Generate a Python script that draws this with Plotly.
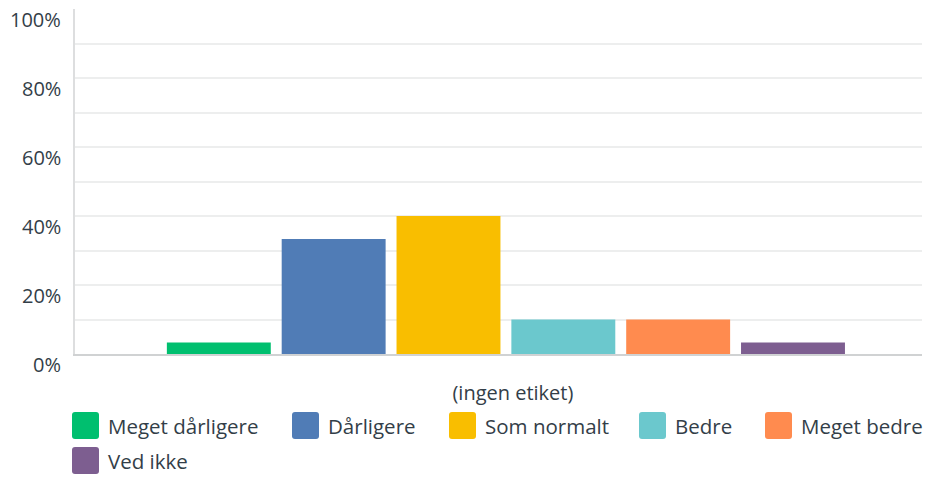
import plotly.graph_objects as go

categories = ["Meget dårligere", "Dårligere", "Som normalt", "Bedre", "Meget bedre", "Ved ikke"]
values = [3.33, 33.33, 40.0, 10.0, 10.0, 3.33]
colors = ["#00BF6F", "#507CB6", "#F9BE00", "#6BC8CD", "#FF8B4F", "#7D5E90"]
x_label = "(ingen etiket)"
y_tickvals = [0, 20, 40, 60, 80, 100]
y_ticktext = ["0%", "20%", "40%", "60%", "80%", "100%"]

FONT = "Open Sans"
TXT = "#333E48"
W, H = 925, 477
ML, MR, MT, MB = 75, 3, 9, 123
PW, PH = W - ML - MR, H - MT - MB

fig = go.Figure()
for name, v, c in zip(categories, values, colors):
    fig.add_trace(go.Bar(x=[0], y=[v], name=name, marker=dict(color=c, line=dict(width=0)),
                         showlegend=False, hovertemplate=name + ": %{y:.2f}%<extra></extra>"))

def px_x(p):
    return (p - ML) / PW

def px_y(p):
    return (MT + PH - p) / PH

# y tick labels (shifted slightly below their gridlines, as in the reference)
for v, t in zip(y_tickvals, y_ticktext):
    fig.add_annotation(x=px_x(63), y=v, xref="paper", yref="y", text=t, showarrow=False,
                       xanchor="right", yanchor="middle", yshift=-10,
                       font=dict(family=FONT, size=20, color=TXT))

# manual legend (large rounded swatches)
legend_rows = [[0, 1, 2, 3, 4], [5]]
legend_box_x = {0: 72, 1: 292, 2: 449, 3: 639, 4: 765, 5: 72}
legend_row_y = [425.5, 460.5]
box = 27
r = 3
for ri, row in enumerate(legend_rows):
    cy = legend_row_y[ri]
    for i in row:
        x0 = legend_box_x[i]
        y0 = cy - box / 2
        x1 = x0 + box
        y1 = cy + box / 2
        path = (f"M {px_x(x0 + r)} {px_y(y0)} L {px_x(x1 - r)} {px_y(y0)} "
                f"Q {px_x(x1)} {px_y(y0)} {px_x(x1)} {px_y(y0 + r)} "
                f"L {px_x(x1)} {px_y(y1 - r)} Q {px_x(x1)} {px_y(y1)} {px_x(x1 - r)} {px_y(y1)} "
                f"L {px_x(x0 + r)} {px_y(y1)} Q {px_x(x0)} {px_y(y1)} {px_x(x0)} {px_y(y1 - r)} "
                f"L {px_x(x0)} {px_y(y0 + r)} Q {px_x(x0)} {px_y(y0)} {px_x(x0 + r)} {px_y(y0)} Z")
        fig.add_shape(type="path", path=path, xref="paper", yref="paper",
                      fillcolor=colors[i], line=dict(width=0), layer="above")
        fig.add_annotation(x=px_x(x1 + 7), y=px_y(cy), xref="paper", yref="paper",
                           text=categories[i], showarrow=False, xanchor="left", yanchor="middle",
                           font=dict(family=FONT, size=20.5, color=TXT))

fig.update_layout(
    width=W, height=H,
    margin=dict(l=ML, r=MR, t=MT, b=MB),
    plot_bgcolor="white", paper_bgcolor="white",
    barmode="group", bargap=0.0, bargroupgap=0.095,
    font=dict(family=FONT, color=TXT),
    showlegend=False,
)
fig.update_xaxes(
    range=[-0.6254, 0.6039], tickvals=[0], ticktext=[x_label],
    showgrid=False, zeroline=False, showline=True, linecolor="#D0D2D3", linewidth=2,
    ticks="", ticklabelstandoff=20, ticklabelshift=7,
    tickfont=dict(family=FONT, size=20, color=TXT),
)
fig.update_yaxes(
    range=[0, 100], tickvals=y_tickvals, showticklabels=False,
    showgrid=True, gridcolor="#EDEEEE", gridwidth=2,
    minor=dict(dtick=10, tick0=0, showgrid=True, gridcolor="#EDEEEE", gridwidth=2),
    zeroline=False, showline=True, linecolor="#DDDEDF", linewidth=2, ticks="",
)

fig.write_html("out.html", config={"displayModeBar": False},
               post_script="document.body.style.margin='0';document.body.style.overflow='hidden';")
